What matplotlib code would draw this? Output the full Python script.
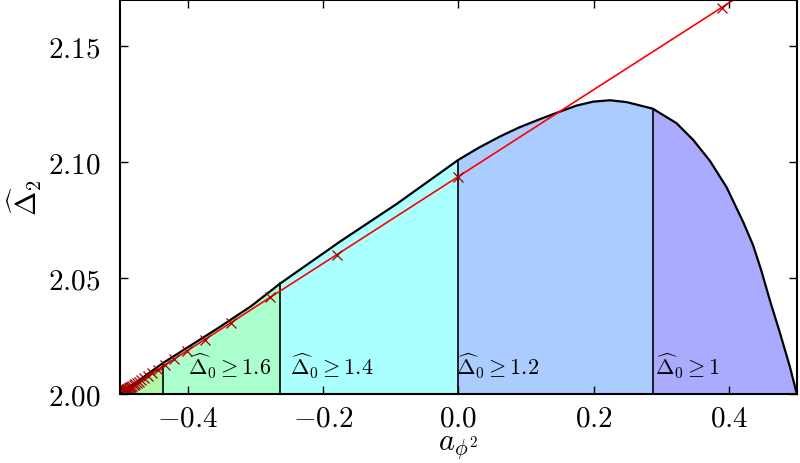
import matplotlib
matplotlib.use("Agg")
import matplotlib.pyplot as plt
import numpy as np
from matplotlib.ticker import FuncFormatter

plt.rcParams["mathtext.fontset"] = "cm"
plt.rcParams["font.family"] = "serif"
plt.rcParams["font.serif"] = ["cmr10", "DejaVu Serif"]

# boundary curve of the allowed region
curve_x = [-0.5, -0.4365, -0.355, -0.3065, -0.263, -0.175, -0.091, 0.0,
           0.03, 0.061, 0.09, 0.120, 0.150, 0.1746, 0.199, 0.2238, 0.2485,
           0.287, 0.3223, 0.3469, 0.3715, 0.3962, 0.4207, 0.4355, 0.4478,
           0.4601, 0.4749, 0.4897, 0.5]
curve_y = [2.0, 2.0133, 2.0284, 2.0378, 2.0477, 2.0657, 2.0820, 2.1010,
           2.1062, 2.1110, 2.1150, 2.1185, 2.1218, 2.1244, 2.1261, 2.1267, 2.1259,
           2.1231, 2.1168, 2.1096, 2.1006, 2.0892, 2.0742, 2.0641, 2.0530,
           2.0405, 2.0265, 2.0118, 2.0]

# region boundaries and labels
bounds = [-0.5, -0.4365, -0.263, 0.0, 0.287, 0.5]
region_colors = ["#b0f8a8", "#aaffcc", "#aaffff", "#aaccff", "#aaaaff"]
region_labels = [None, r"$\widehat{\Delta}_0 \geq 1.6$", r"$\widehat{\Delta}_0 \geq 1.4$",
                 r"$\widehat{\Delta}_0 \geq 1.2$", r"$\widehat{\Delta}_0 \geq 1$"]
label_x = [None, -0.40, -0.249, -0.004, 0.290]

# red line with markers
marker_x = [1.5, 0.3889, 0.0, -0.18, -0.2778, -0.3367, -0.375, -0.4012, -0.42,
            -0.4339, -0.4444, -0.4527, -0.4592, -0.4644, -0.4688, -0.4723,
            -0.4753, -0.4778, -0.48, -0.4819, -0.4835, -0.4849, -0.4861,
            -0.4872, -0.4882, -0.489, -0.4898, -0.4905, -0.4911, -0.4917,
            -0.4922, -0.4927, -0.4931, -0.4935, -0.4938, -0.4942, -0.4945,
            -0.4947, -0.495, -0.4952]
marker_y = [2.375, 2.1667, 2.0938, 2.06, 2.0417, 2.0306, 2.0234, 2.0185, 2.015,
            2.0124, 2.0104, 2.0089, 2.0077, 2.0067, 2.0059, 2.0052,
            2.0046, 2.0042, 2.0038, 2.0034, 2.0031, 2.0028, 2.0026,
            2.0024, 2.0022, 2.0021, 2.0019, 2.0018, 2.0017, 2.0016,
            2.0015, 2.0014, 2.0013, 2.0012, 2.0012, 2.0011, 2.001,
            2.001, 2.0009, 2.0009]

fig = plt.figure(figsize=(8, 4.64), dpi=100)
ax = fig.add_axes([0.15, 0.149, 0.846, 0.849])

cx = np.array(curve_x)
cy = np.array(curve_y)
for i in range(len(region_colors)):
    lo, hi = bounds[i], bounds[i + 1]
    m = (cx >= lo - 1e-9) & (cx <= hi + 1e-9)
    ax.fill_between(cx[m], 2.0, cy[m], color=region_colors[i], lw=0)
    if region_labels[i]:
        ax.text(label_x[i], 2.0085, region_labels[i], fontsize=16, ha="left", va="baseline")

for b in bounds[1:-1]:
    idx = int(np.argmin(np.abs(cx - b)))
    ax.plot([b, b], [2.0, cy[idx]], color="black", lw=1.2)

ax.plot(cx, cy, color="black", lw=1.6)
ax.plot(marker_x, marker_y, color="red", lw=1.2, marker="x", markersize=7.5,
        markeredgecolor="#a00000", markeredgewidth=0.9)

ax.set_xlim(-0.5, 0.5)
ax.set_ylim(2.0, 2.17)
ax.set_xticks([-0.4, -0.2, 0.0, 0.2, 0.4])
ax.set_yticks([2.00, 2.05, 2.10, 2.15])
ax.xaxis.set_major_formatter(FuncFormatter(lambda v, p: f"${v:.1f}$"))
ax.yaxis.set_major_formatter(FuncFormatter(lambda v, p: f"${v:.2f}$"))
ax.tick_params(direction="in", top=True, right=True, length=6, width=1,
               labelsize=21)
ax.tick_params(axis="x", pad=8)
ax.tick_params(axis="y", pad=14)
for s in ax.spines.values():
    s.set_linewidth(1.5)

ax.set_xlabel(r"$a_{\phi^2}$", fontsize=22, labelpad=1)
ax.set_ylabel(r"$\widehat{\Delta}_2$", fontsize=21, labelpad=3)

fig.savefig("out.png", dpi=100)
